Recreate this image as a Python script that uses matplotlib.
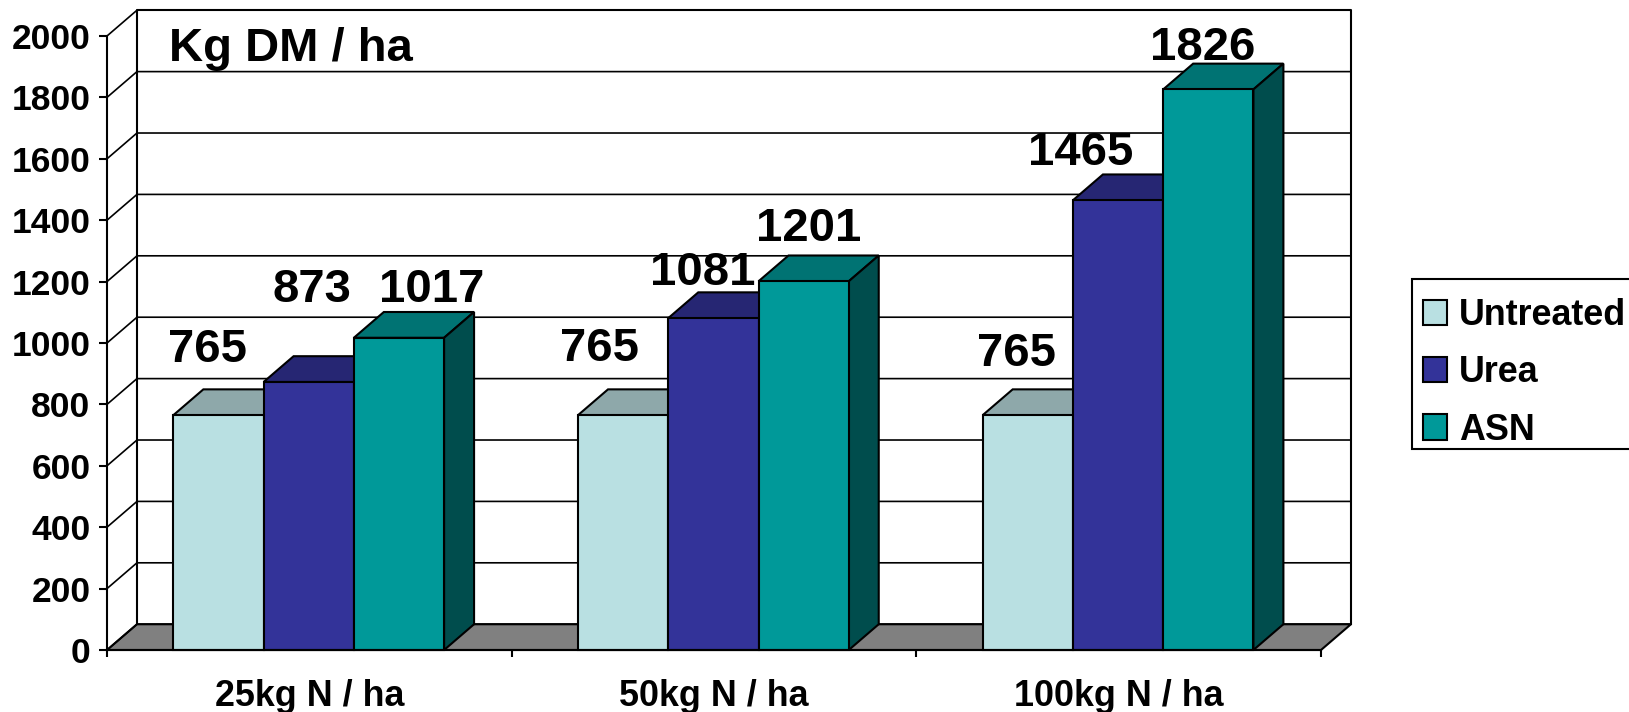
import numpy as np
import matplotlib
matplotlib.use("Agg")
import matplotlib.pyplot as plt
from matplotlib.patches import Patch, Rectangle

plt.rcParams['font.family'] = ['Liberation Sans', 'DejaVu Sans']
plt.rcParams['font.weight'] = 'bold'

categories = ["25kg N / ha", "50kg N / ha", "100kg N / ha"]
series_names = ["Untreated", "Urea", "ASN"]
untreated = [765, 765, 765]
urea = [873, 1081, 1465]
asn = [1017, 1201, 1826]
y_ticks = [0, 200, 400, 600, 800, 1000, 1200, 1400, 1600, 1800, 2000]

# label nudges in pixels, relative to the front top centre of each bar
label_dx = [[-11, -24, -11], [3, -11, -37], [33, 5, -6]]
label_dy = [[65, 66, 61], [92, 45, 47], [48, 52, 41]]

front_colors = ["#B9E0E2", "#333399", "#009999"]
top_colors = ["#8EA8AA", "#262673", "#007373"]
side_colors = ["#6F8688", "#1A1A4D", "#004D4D"]

W, H = 1629, 712
fig = plt.figure(figsize=(W/100, H/100), dpi=100)
ax = fig.add_axes([107/W, (H-650)/H, (1321-107)/W, (650-36)/H])
ax.set_xlim(0, 3)
ax.set_ylim(0, 2000)
ax.patch.set_visible(False)

depth_x = 0.0741
depth_y = 84
bar_w = 0.223
start = 0.164
lw = 1.5

# floor and walls
ax.fill([0, depth_x, 3+depth_x, 3], [0, depth_y, depth_y, 0], facecolor="#808080",
        edgecolor="black", lw=lw, clip_on=False, zorder=1)
ax.plot([depth_x, depth_x, 3+depth_x, 3+depth_x], [depth_y, 2000+depth_y, 2000+depth_y, depth_y],
        color="black", lw=lw, clip_on=False, zorder=1.5)
for v in y_ticks[:-1]:
    ax.plot([0, depth_x, 3+depth_x], [v, v+depth_y, v+depth_y], color="black", lw=1.2,
            clip_on=False, zorder=1.5)
ax.plot([0, depth_x], [2000, 2000+depth_y], color="black", lw=1.2, clip_on=False, zorder=1.5)

# 3d looking bars
all_series = [untreated, urea, asn]
z = 3
for k in range(len(categories)):
    for s in range(len(all_series)):
        x0 = k + start + s*bar_w
        x1 = x0 + bar_w
        val = all_series[s][k]
        ax.fill([x0, x0+depth_x, x1+depth_x, x1], [val, val+depth_y, val+depth_y, val],
                facecolor=top_colors[s], edgecolor="black", lw=lw, clip_on=False, zorder=z)
        ax.fill([x1, x1+depth_x, x1+depth_x, x1], [0, depth_y, val+depth_y, val],
                facecolor=side_colors[s], edgecolor="black", lw=lw, clip_on=False, zorder=z)
        ax.bar(x0, val, width=bar_w, align='edge', color=front_colors[s], edgecolor="black",
               lw=lw, clip_on=False, zorder=z+0.5)
        ax.annotate(str(val), (x0+bar_w/2, val),
                    xytext=(label_dx[s][k]*0.72, label_dy[s][k]*0.72),
                    textcoords='offset points', ha='center', va='center',
                    fontsize=34, fontweight='bold', color="black", zorder=20,
                    annotation_clip=False)
        z += 1

# axes
for name in ['top', 'right']:
    ax.spines[name].set_visible(False)
for name in ['left', 'bottom']:
    ax.spines[name].set_linewidth(lw)
    ax.spines[name].set_zorder(15)

ax.set_yticks(y_ticks)
ax.tick_params(axis='y', length=5.8, width=lw, pad=6, labelsize=25.5)
ax.set_xticks([0, 1, 2, 3])
ax.set_xticklabels([])
ax.set_xticks(np.arange(len(categories))+0.5, minor=True)
ax.set_xticklabels(categories, minor=True, fontsize=25.8, fontweight='bold')
ax.tick_params(axis='x', which='major', length=5, width=lw)
ax.tick_params(axis='x', which='minor', length=0, pad=21)

fig.text(169/W, (H-61)/H, "Kg DM / ha", fontsize=34, fontweight='bold', ha='left', va='baseline')

# legend frame runs off the right edge of the picture
fig.add_artist(Rectangle((1412/W, (H-449)/H), 240/W, 170/H, transform=fig.transFigure,
                         facecolor="white", edgecolor="black", lw=lw))
handles = [Patch(facecolor=front_colors[i], edgecolor="black", lw=lw) for i in range(3)]
leg = fig.legend(handles, series_names, loc='upper left', bbox_to_anchor=(1412/W, (H-287)/H),
                 borderaxespad=0, fontsize=25.8, frameon=False,
                 handlelength=0.68, handleheight=0.7,
                 handletextpad=0.33, borderpad=0.31, labelspacing=0.62)

fig.savefig("out.png", dpi=100)
